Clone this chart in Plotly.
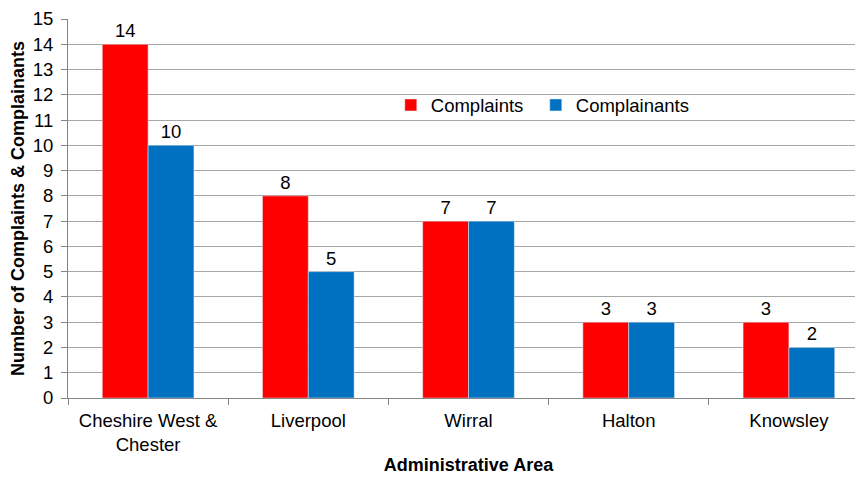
import plotly.graph_objects as go

areas = ["Cheshire West &<br>Chester", "Liverpool", "Wirral", "Halton", "Knowsley"]
complaints = [14, 8, 7, 3, 3]
complainants = [10, 5, 7, 3, 2]

font = "Liberation Sans, Arial, sans-serif"
fs = 18.5

fig = go.Figure()
fig.add_trace(go.Bar(x=areas, y=complaints, name="Complaints", marker_color="#FF0000",
                     text=complaints, textposition="outside", cliponaxis=False,
                     textfont=dict(size=fs, color="black"), legend="legend", showlegend=True))
fig.add_trace(go.Bar(x=areas, y=complainants, name="Complainants", marker_color="#0070C0",
                     text=complainants, textposition="outside", cliponaxis=False,
                     textfont=dict(size=fs, color="black"), legend="legend2", showlegend=True))

leg_common = dict(orientation="h", y=0.772, xanchor="left", yanchor="middle",
                  font=dict(size=fs), bgcolor="rgba(0,0,0,0)", itemwidth=30)

fig.update_layout(
    width=863, height=479,
    margin=dict(l=60, r=1.5, t=10.5, b=89, autoexpand=False),
    plot_bgcolor="white", paper_bgcolor="white",
    barmode="group", bargap=0.428, bargroupgap=0,
    font=dict(family=font, size=fs, color="black"),
    showlegend=True,
    legend=dict(x=0.403, **leg_common),
    legend2=dict(x=0.584, **leg_common),
)
fig.update_xaxes(
    title=dict(text="<b>Administrative Area</b>", font=dict(size=18), standoff=4),
    showline=True, linecolor="#868686", linewidth=1,
    ticks="outside", tickson="boundaries", ticklen=6, tickcolor="#868686",
    tickfont=dict(size=fs), automargin=False, ticklabelstandoff=6,
)
fig.update_yaxes(
    title=dict(text="<b>Number of Complaints & Complainants</b>", font=dict(size=18), standoff=5),
    range=[0, 15.0001], tickvals=list(range(16)),
    showline=True, linecolor="#868686", linewidth=1,
    ticks="outside", ticklen=6, tickcolor="#868686",
    showgrid=True, gridcolor="#A6A6A6", gridwidth=1,
    tickfont=dict(size=fs), zeroline=False, automargin=False, ticklabelstandoff=4,
    ticklabeloverflow="allow",
)

fig.write_html("out.html")
